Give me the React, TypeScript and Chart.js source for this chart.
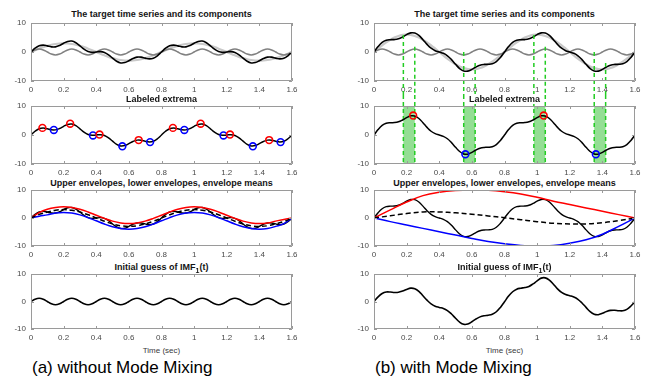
import React, { useEffect, useRef } from "react";
import { Chart, registerables } from "chart.js";

Chart.register(...registerables);

// ---------------- data ----------------
const timeFine = [
  0, 0.025, 0.05, 0.075, 0.1, 0.125, 0.15, 0.175, 0.2, 0.225, 0.25, 0.275, 0.3, 0.325, 0.35, 0.375,
  0.4, 0.425, 0.45, 0.475, 0.5, 0.525, 0.55, 0.575, 0.6, 0.625, 0.65, 0.675, 0.7, 0.725, 0.75, 0.775,
  0.8, 0.825, 0.85, 0.875, 0.9, 0.925, 0.95, 0.975, 1, 1.025, 1.05, 1.075, 1.1, 1.125, 1.15, 1.175,
  1.2, 1.225, 1.25, 1.275, 1.3, 1.325, 1.35, 1.375, 1.4, 1.425, 1.45, 1.475, 1.5, 1.525, 1.55, 1.575, 1.6,
];

// fast component (grey)
const highComp = [
  0, 0.71, 1, 0.71, 0, -0.71, -1, -0.71, 0, 0.71, 1, 0.71, 0, -0.71, -1, -0.71,
  0, 0.71, 1, 0.71, 0, -0.71, -1, -0.71, 0, 0.71, 1, 0.71, 0, -0.71, -1, -0.71,
  0, 0.71, 1, 0.71, 0, -0.71, -1, -0.71, 0, 0.71, 1, 0.71, 0, -0.71, -1, -0.71,
  0, 0.71, 1, 0.71, 0, -0.71, -1, -0.71, 0, 0.71, 1, 0.71, 0, -0.71, -1, -0.71, 0,
];

// (a) slow component (light grey)
const lowA = [
  0, 0.59, 1.15, 1.67, 2.12, 2.49, 2.77, 2.94, 3, 2.94, 2.77, 2.49, 2.12, 1.67, 1.15, 0.59,
  0, -0.59, -1.15, -1.67, -2.12, -2.49, -2.77, -2.94, -3, -2.94, -2.77, -2.49, -2.12, -1.67, -1.15, -0.59,
  0, 0.59, 1.15, 1.67, 2.12, 2.49, 2.77, 2.94, 3, 2.94, 2.77, 2.49, 2.12, 1.67, 1.15, 0.59,
  0, -0.59, -1.15, -1.67, -2.12, -2.49, -2.77, -2.94, -3, -2.94, -2.77, -2.49, -2.12, -1.67, -1.15, -0.59, 0,
];

// (a) target series (black)
const signalA = [
  0, 1.3, 2.15, 2.38, 2.12, 1.78, 1.77, 2.23, 3, 3.65, 3.77, 3.2, 2.12, 0.96, 0.15, -0.12,
  0, 0.12, -0.15, -0.96, -2.12, -3.2, -3.77, -3.65, -3, -2.23, -1.77, -1.78, -2.12, -2.38, -2.15, -1.3,
  0, 1.3, 2.15, 2.38, 2.12, 1.78, 1.77, 2.23, 3, 3.65, 3.77, 3.2, 2.12, 0.96, 0.15, -0.12,
  0, 0.12, -0.15, -0.96, -2.12, -3.2, -3.77, -3.65, -3, -2.23, -1.77, -1.78, -2.12, -2.38, -2.15, -1.3, 0,
];

// (b) slow component (light grey)
const lowB = [
  0, 1.17, 2.3, 3.34, 4.24, 4.99, 5.54, 5.89, 6, 5.89, 5.54, 4.99, 4.24, 3.34, 2.3, 1.17,
  0, -1.17, -2.3, -3.34, -4.24, -4.99, -5.54, -5.89, -6, -5.89, -5.54, -4.99, -4.24, -3.34, -2.3, -1.17,
  0, 1.17, 2.3, 3.34, 4.24, 4.99, 5.54, 5.89, 6, 5.89, 5.54, 4.99, 4.24, 3.34, 2.3, 1.17,
  0, -1.17, -2.3, -3.34, -4.24, -4.99, -5.54, -5.89, -6, -5.89, -5.54, -4.99, -4.24, -3.34, -2.3, -1.17, 0,
];

// (b) target series (black)
const signalB = [
  0, 1.88, 3.3, 4.05, 4.24, 4.28, 4.54, 5.18, 6, 6.6, 6.54, 5.7, 4.24, 2.63, 1.3, 0.46,
  0, -0.46, -1.3, -2.63, -4.24, -5.7, -6.54, -6.6, -6, -5.18, -4.54, -4.28, -4.24, -4.05, -3.3, -1.88,
  0, 1.88, 3.3, 4.05, 4.24, 4.28, 4.54, 5.18, 6, 6.6, 6.54, 5.7, 4.24, 2.63, 1.3, 0.46,
  0, -0.46, -1.3, -2.63, -4.24, -5.7, -6.54, -6.6, -6, -5.18, -4.54, -4.28, -4.24, -4.05, -3.3, -1.88, 0,
];

// initial guesses of IMF1
const imfA = [
  0, 0.85, 1.2, 0.85, 0, -0.85, -1.2, -0.85, 0, 0.85, 1.2, 0.85, 0, -0.85, -1.2, -0.85,
  0, 0.85, 1.2, 0.85, 0, -0.85, -1.2, -0.85, 0, 0.85, 1.2, 0.85, 0, -0.85, -1.2, -0.85,
  0, 0.85, 1.2, 0.85, 0, -0.85, -1.2, -0.85, 0, 0.85, 1.2, 0.85, 0, -0.85, -1.2, -0.85,
  0, 0.85, 1.2, 0.85, 0, -0.85, -1.2, -0.85, 0, 0.85, 1.2, 0.85, 0, -0.85, -1.2, -0.85, 0,
];
const imfB = [
  0, 1.68, 2.9, 3.45, 3.44, 3.28, 3.34, 3.78, 4.4, 4.86, 4.66, 3.69, 2.09, 0.48, -0.85, -1.69,
  -2.15, -2.54, -3.3, -4.56, -6.09, -7.5, -8.3, -8.2, -7.35, -6.38, -5.59, -5.18, -4.99, -4.64, -3.73, -2.14,
  -0.1, 1.96, 3.55, 4.48, 4.84, 5.06, 5.49, 6.4, 7.5, 8.5, 8.6, 7.8, 6.3, 4.6, 3.3, 2.51,
  2.1, 1.64, 0.8, -0.53, -2.14, -3.7, -4.64, -4.8, -4.3, -3.68, -3.24, -3.18, -3.34, -3.37, -2.85, -1.65, 0,
];

// (a) envelopes
const timeEnvA = [
  0, 0.05, 0.1, 0.15, 0.2, 0.25, 0.3, 0.35, 0.4, 0.45, 0.5, 0.55, 0.6, 0.65, 0.7, 0.75,
  0.8, 0.85, 0.9, 0.95, 1, 1.05, 1.1, 1.15, 1.2, 1.25, 1.3, 1.35, 1.4, 1.45, 1.5, 1.55, 1.6,
];
const upperA = [
  0, 1.9, 3.12, 3.77, 4, 3.77, 3.12, 2.15, 1, -0.15, -1.12, -1.77, -2, -1.77, -1.12, -0.15,
  1, 2.15, 3.12, 3.77, 4, 3.77, 3.12, 2.15, 1, -0.15, -1.12, -1.77, -2, -1.77, -1.12, -0.5, 0,
];
const lowerA = [
  0, 0.65, 1.12, 1.77, 2, 1.77, 1.12, 0.15, -1, -2.15, -3.12, -3.77, -4, -3.77, -3.12, -2.15,
  -1, 0.15, 1.12, 1.77, 2, 1.77, 1.12, 0.15, -1, -2.15, -3.12, -3.77, -4, -3.77, -3, -2, 0,
];
const meanA = [
  0, 1.28, 2.12, 2.77, 3, 2.77, 2.12, 1.15, 0, -1.15, -2.12, -2.77, -3, -2.77, -2.12, -1.15,
  0, 1.15, 2.12, 2.77, 3, 2.77, 2.12, 1.15, 0, -1.15, -2.12, -2.77, -3, -2.77, -2.06, -1.25, 0,
];

// (b) envelopes
const timeEnvB = [0, 0.1, 0.2, 0.3, 0.4, 0.5, 0.6, 0.7, 0.8, 0.9, 1, 1.1, 1.2, 1.3, 1.4, 1.5, 1.6];
const upperB = [0, 2.9, 5.7, 8, 9.2, 9.8, 10, 9.9, 9.4, 8.6, 7.4, 6, 4.8, 3.6, 2.4, 1.2, 0];
const lowerB = [0, -1.3, -2.5, -3.7, -4.9, -6.1, -7.3, -8.4, -9.2, -9.8, -10, -9.8, -9, -7.8, -5.8, -3, 0];
const meanB = [0, 0.8, 1.6, 2.15, 2.15, 1.85, 1.35, 0.75, 0.1, -0.6, -1.3, -1.9, -2.1, -2.1, -1.7, -0.9, 0];

// labeled extrema
const maxTimeA = [0.07, 0.24, 0.42, 0.66, 0.87, 1.04, 1.22, 1.46];
const maxValA = [2.45, 3.9, 0.15, -1.75, 2.45, 3.9, 0.15, -1.75];
const minTimeA = [0.14, 0.38, 0.56, 0.73, 0.94, 1.18, 1.36, 1.53];
const minValA = [1.75, -0.15, -3.9, -2.45, 1.75, -0.15, -3.9, -2.45];
const maxTimeB = [0.24, 1.04];
const maxValB = [6.7, 6.7];
const minTimeB = [0.56, 1.36];
const minValB = [-6.65, -6.65];

// mode-mixing marks (b)
const bandStart = [0.18, 0.55, 0.98, 1.35];
const bandEnd = [0.25, 0.62, 1.05, 1.42];
const guideTimes = [0.18, 0.25, 0.55, 0.62, 0.98, 1.05, 1.35, 1.42];
const guideTops = [5.9, 1.8, 0, -3.8, 5.9, 1.8, 0, -3.8];

// axes
const xTicks = [0, 0.2, 0.4, 0.6, 0.8, 1, 1.2, 1.4, 1.6];
const xTickLabels = ["0", "0.2", "0.4", "0.6", "0.8", "1", "1.2", "1.4", "1.6"];
const yTicks = [-10, 0, 10];
const yTickLabels = ["-10", "0", "10"];

const panelTitles = [
  "The target time series and its components",
  "Labeled extrema",
  "Upper envelopes, lower envelopes, envelope means",
];
const lastTitleMain = "Initial guess of IMF";
const lastTitleSub = "1";
const lastTitleTail = "(t)";
const xAxisTitle = "Time (sec)";
const captions = ["(a) without Mode Mixing", "(b) with Mode Mixing"];

// ---------------- styles / layout ----------------
const FONT = "'Liberation Sans', Arial, Helvetica, sans-serif";
const GREEN = "#22cc22";
const BAND = "rgb(148,222,148)";
const TICK_COLOR = "#4a4a4a";
const FRAME_COLOR = "#9a9a9a";

const PLOT_LEFT = [31, 374];
const PLOT_W = 261;
const Y_AXIS_W = 31;
const RIGHT_PAD = 14;
const ROW_TOP = [23, 106, 190, 274];
const ROW_H = [58, 58, 56, 55];
const CANVAS_TOP = [0, 95, 178, 262];
const CANVAS_BOTTOM = [95, 178, 262, 345];
const TITLE_TOP = [8, 93, 177, 261];

const pts = (xs: number[], ys: number[]) => xs.map((x, i) => ({ x, y: ys[i] }));

function lineDs(xs: number[], ys: number[], color: string, width: number, dash: number[] = []) {
  return {
    data: pts(xs, ys),
    borderColor: color,
    backgroundColor: color,
    borderWidth: width,
    borderDash: dash,
    pointRadius: 0,
    tension: 0.4,
    fill: false,
  };
}

function markerDs(xs: number[], ys: number[], color: string) {
  return {
    data: pts(xs, ys),
    showLine: false,
    borderColor: color,
    backgroundColor: "rgba(0,0,0,0)",
    pointRadius: 3.4,
    pointBorderWidth: 1.6,
    pointBorderColor: color,
    pointBackgroundColor: "rgba(0,0,0,0)",
    pointStyle: "circle",
  };
}

const framePlugin = {
  id: "matlabFrame",
  afterDraw(chart: any) {
    const { ctx, chartArea: a } = chart;
    const sx = chart.scales.x;
    const sy = chart.scales.y;
    ctx.save();
    ctx.strokeStyle = FRAME_COLOR;
    ctx.lineWidth = 1;
    ctx.setLineDash([]);
    ctx.beginPath();
    ctx.rect(a.left + 0.5, a.top + 0.5, a.width - 1, a.height - 1);
    ctx.stroke();
    ctx.beginPath();
    xTicks.forEach((v) => {
      const x = Math.round(sx.getPixelForValue(v)) + 0.5;
      ctx.moveTo(x, a.bottom);
      ctx.lineTo(x, a.bottom - 3);
      ctx.moveTo(x, a.top);
      ctx.lineTo(x, a.top + 3);
    });
    yTicks.forEach((v) => {
      const y = Math.round(sy.getPixelForValue(v)) + 0.5;
      ctx.moveTo(a.left, y);
      ctx.lineTo(a.left + 3, y);
      ctx.moveTo(a.right, y);
      ctx.lineTo(a.right - 3, y);
    });
    ctx.stroke();
    ctx.restore();
  },
};

const guideTopPlugin = {
  id: "guideTop",
  afterDatasetsDraw(chart: any) {
    const { ctx } = chart;
    const sx = chart.scales.x;
    const sy = chart.scales.y;
    ctx.save();
    ctx.strokeStyle = GREEN;
    ctx.lineWidth = 1.5;
    ctx.setLineDash([4, 3]);
    guideTimes.forEach((t, i) => {
      const x = sx.getPixelForValue(t);
      ctx.beginPath();
      ctx.moveTo(x, sy.getPixelForValue(guideTops[i]));
      ctx.lineTo(x, chart.height);
      ctx.stroke();
    });
    ctx.restore();
  },
};

const bandPlugin = {
  id: "bands",
  beforeDatasetsDraw(chart: any) {
    const { ctx, chartArea: a } = chart;
    const sx = chart.scales.x;
    ctx.save();
    ctx.fillStyle = BAND;
    bandStart.forEach((s, i) => {
      const x0 = sx.getPixelForValue(s);
      const x1 = sx.getPixelForValue(bandEnd[i]);
      ctx.fillRect(x0, a.top, x1 - x0, a.height);
    });
    ctx.strokeStyle = GREEN;
    ctx.lineWidth = 1.5;
    ctx.setLineDash([4, 3]);
    guideTimes.forEach((t) => {
      const x = sx.getPixelForValue(t);
      ctx.beginPath();
      ctx.moveTo(x, 0);
      ctx.lineTo(x, a.bottom);
      ctx.stroke();
    });
    ctx.restore();
  },
};

type PanelProps = {
  col: number;
  row: number;
  datasets: any[];
  plugins?: any[];
};

function Panel({ col, row, datasets, plugins = [] }: PanelProps) {
  const ref = useRef<HTMLCanvasElement | null>(null);
  const left = PLOT_LEFT[col] - Y_AXIS_W;
  const top = CANVAS_TOP[row];
  const width = Y_AXIS_W + PLOT_W + RIGHT_PAD;
  const height = CANVAS_BOTTOM[row] - CANVAS_TOP[row];
  const padTop = ROW_TOP[row] - CANVAS_TOP[row];
  const axisH = CANVAS_BOTTOM[row] - (ROW_TOP[row] + ROW_H[row]);

  useEffect(() => {
    if (!ref.current) return;
    const tickFont = { family: FONT, size: 8 };
    const chart = new Chart(ref.current, {
      type: "line",
      data: { datasets },
      options: {
        animation: false,
        responsive: false,
        devicePixelRatio: 1,
        events: [],
        layout: { padding: { top: padTop, right: RIGHT_PAD, left: 0, bottom: 0 } },
        plugins: {
          legend: { display: false },
          tooltip: { enabled: false },
          title: { display: false },
        },
        scales: {
          x: {
            type: "linear",
            min: 0,
            max: 1.6,
            grid: { display: false, drawTicks: false },
            border: { display: false },
            afterBuildTicks: (s: any) => {
              s.ticks = xTicks.map((v) => ({ value: v }));
            },
            afterFit: (s: any) => {
              s.height = axisH;
            },
            ticks: {
              font: tickFont,
              color: TICK_COLOR,
              padding: 4,
              maxRotation: 0,
              autoSkip: false,
              callback: (_v: any, i: number) => xTickLabels[i],
            },
          },
          y: {
            type: "linear",
            min: -10,
            max: 10,
            grid: { display: false, drawTicks: false },
            border: { display: false },
            afterBuildTicks: (s: any) => {
              s.ticks = yTicks.map((v) => ({ value: v }));
            },
            afterFit: (s: any) => {
              s.width = Y_AXIS_W;
            },
            ticks: {
              font: tickFont,
              color: TICK_COLOR,
              padding: 5,
              autoSkip: false,
              callback: (_v: any, i: number) => yTickLabels[i],
            },
          },
        },
      } as any,
      plugins: [framePlugin, ...plugins],
    });
    return () => chart.destroy();
  }, []);

  return (
    <canvas
      ref={ref}
      width={width}
      height={height}
      style={{ position: "absolute", left, top, width, height, display: "block" }}
    />
  );
}

function Title({ col, row, children }: { col: number; row: number; children: React.ReactNode }) {
  return (
    <div
      style={{
        position: "absolute",
        left: PLOT_LEFT[col],
        width: PLOT_W,
        top: TITLE_TOP[row],
        height: 12,
        lineHeight: "12px",
        fontSize: 9,
        fontWeight: "bold",
        textAlign: "center",
        color: "#141414",
        whiteSpace: "nowrap",
      }}
    >
      <span style={{ background: "#fff", padding: "0 1px" }}>{children}</span>
    </div>
  );
}

export default function App() {
  const t = timeFine;
  const panels = [
    <Panel
      key="a0"
      col={0}
      row={0}
      datasets={[
        lineDs(t, signalA, "#000000", 1.6),
        lineDs(t, highComp, "#808080", 1.5),
        lineDs(t, lowA, "#c9c9c9", 2.2),
      ]}
    />,
    <Panel
      key="b0"
      col={1}
      row={0}
      datasets={[
        lineDs(t, signalB, "#000000", 1.6),
        lineDs(t, highComp, "#808080", 1.5),
        lineDs(t, lowB, "#c9c9c9", 2.2),
      ]}
      plugins={[guideTopPlugin]}
    />,
    <Panel
      key="a1"
      col={0}
      row={1}
      datasets={[
        markerDs(maxTimeA, maxValA, "#ff0000"),
        markerDs(minTimeA, minValA, "#0000ff"),
        lineDs(t, signalA, "#000000", 1.5),
      ]}
    />,
    <Panel
      key="b1"
      col={1}
      row={1}
      datasets={[
        markerDs(maxTimeB, maxValB, "#ff0000"),
        markerDs(minTimeB, minValB, "#0000ff"),
        lineDs(t, signalB, "#000000", 1.5),
      ]}
      plugins={[bandPlugin]}
    />,
    <Panel
      key="a2"
      col={0}
      row={2}
      datasets={[
        lineDs(timeEnvA, meanA, "#000000", 1.5, [5, 3]),
        lineDs(timeEnvA, lowerA, "#0000ff", 1.5),
        lineDs(timeEnvA, upperA, "#ff0000", 1.5),
        lineDs(t, signalA, "#000000", 1.4),
      ]}
    />,
    <Panel
      key="b2"
      col={1}
      row={2}
      datasets={[
        lineDs(timeEnvB, meanB, "#000000", 1.5, [5, 3]),
        lineDs(timeEnvB, lowerB, "#0000ff", 1.5),
        lineDs(timeEnvB, upperB, "#ff0000", 1.5),
        lineDs(t, signalB, "#000000", 1.4),
      ]}
    />,
    <Panel key="a3" col={0} row={3} datasets={[lineDs(t, imfA, "#000000", 1.6)]} />,
    <Panel key="b3" col={1} row={3} datasets={[lineDs(t, imfB, "#000000", 1.6)]} />,
  ];

  return (
    <div
      style={{
        position: "absolute",
        left: 0,
        top: 0,
        width: 649,
        height: 378,
        background: "#ffffff",
        fontFamily: FONT,
        overflow: "hidden",
      }}
    >
      {panels}
      {[0, 1].map((c) =>
        panelTitles.map((txt, r) => (
          <Title key={`t${c}${r}`} col={c} row={r}>
            {txt}
          </Title>
        ))
      )}
      {[0, 1].map((c) => (
        <Title key={`t${c}3`} col={c} row={3}>
          {lastTitleMain}
          <span style={{ fontSize: 7, position: "relative", top: 3 }}>{lastTitleSub}</span>
          {lastTitleTail}
        </Title>
      ))}
      {[0, 1].map((c) => (
        <div
          key={`xl${c}`}
          style={{
            position: "absolute",
            left: PLOT_LEFT[c],
            width: PLOT_W,
            top: 345,
            lineHeight: "11px",
            fontSize: 8,
            textAlign: "center",
            color: "#3a3a3a",
          }}
        >
          {xAxisTitle}
        </div>
      ))}
      {captions.map((txt, c) => (
        <div
          key={`cap${c}`}
          style={{
            position: "absolute",
            left: PLOT_LEFT[c] + 1,
            top: 358,
            lineHeight: "20px",
            fontSize: 17,
            color: "#000",
            whiteSpace: "nowrap",
          }}
        >
          {txt}
        </div>
      ))}
    </div>
  );
}
